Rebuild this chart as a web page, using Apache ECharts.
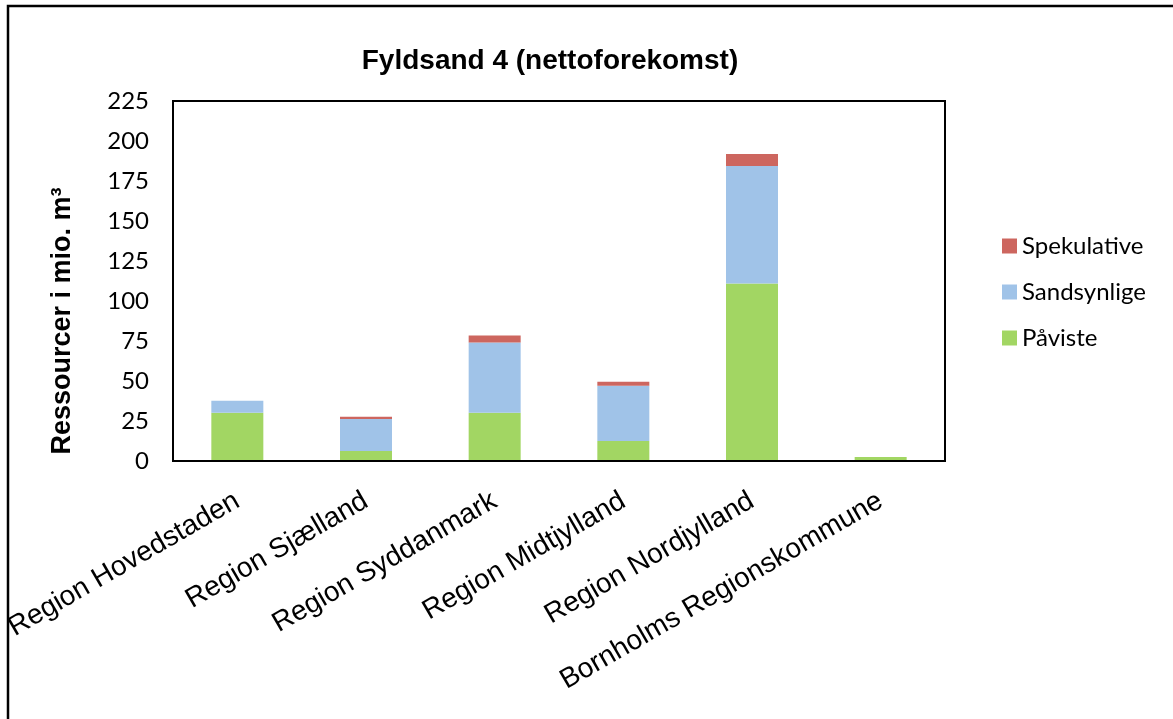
<!DOCTYPE html>
<html>
<head>
<meta charset="utf-8">
<script src="https://cdn.jsdelivr.net/npm/echarts@6/dist/echarts.min.js"></script>
<style>
  html, body { margin: 0; padding: 0; background: #fff; }
  #chart { width: 1173px; height: 719px; }
</style>
</head>
<body>
<div id="chart"></div>
<script>
// Fyldsand 4 (nettoforekomst) – ressourcer pr. region, mio. m³
const regions = [
  'Region Hovedstaden',
  'Region Sjælland',
  'Region Syddanmark',
  'Region Midtjylland',
  'Region Nordjylland',
  'Bornholms Regionskommune'
];
const paviste      = [30.1, 6.3, 30.1, 12.5, 111, 2.5];
const sandsynlige  = [7.5, 20.0, 44.0, 34.5, 73.3, 0];
const spekulative  = [0, 1.3, 4.3, 2.5, 7.5, 0];
const yTicks = [0, 25, 50, 75, 100, 125, 150, 175, 200, 225];

const chart = echarts.init(document.getElementById('chart'));

const barCommon = { type: 'bar', stack: 'total', barWidth: 52 };

chart.setOption({
  animation: false,
  backgroundColor: '#ffffff',
  title: {
    text: 'Fyldsand 4 (nettoforekomst)',
    left: 545, top: 42, textAlign: 'center',
    textStyle: { fontFamily: 'Liberation Sans', fontWeight: 'bold', fontSize: 28, color: '#000' }
  },
  legend: {
    orient: 'vertical',
    left: 997, top: 229,
    itemWidth: 15, itemHeight: 15, itemGap: 22,
    icon: 'rect',
    data: ['Spekulative', 'Sandsynlige', 'Påviste'],
    textStyle: { fontFamily: 'Lato', fontSize: 24, color: '#000', padding: [0, 0, 0, 0] }
  },
  grid: { left: 173, right: 1173 - 945, top: 101, bottom: 719 - 461, containLabel: false },
  xAxis: {
    type: 'category',
    data: regions,
    axisLine: { show: true, lineStyle: { color: '#000', width: 2 } },
    axisTick: { show: false },
    axisLabel: {
      rotate: 30, interval: 0, margin: 38,
      fontFamily: 'Liberation Sans', fontSize: 28, color: '#000'
    }
  },
  yAxis: {
    type: 'value',
    min: yTicks[0], max: yTicks[yTicks.length - 1], interval: 25,
    axisLine: { show: true, lineStyle: { color: '#000', width: 2 } },
    axisTick: { show: false },
    splitLine: { show: false },
    axisLabel: { margin: 24, fontFamily: 'Lato', fontSize: 24, color: '#000' }
  },
  graphic: [
    // outer chart frame
    { type: 'rect', shape: { x: 8, y: 6, width: 1200, height: 760 },
      style: { fill: 'none', stroke: '#000', lineWidth: 2.5 }, silent: true },
    // plot area frame
    { type: 'rect', shape: { x: 173, y: 101, width: 772, height: 360 },
      style: { fill: 'none', stroke: '#000', lineWidth: 2 }, silent: true, z: 10 },
    // y-axis title
    { type: 'text', x: 63, y: 321, rotation: Math.PI / 2,
      style: { text: 'Ressourcer i mio. m³', fontFamily: 'Liberation Sans', fontWeight: 'bold',
               fontSize: 27, fill: '#000', align: 'center', verticalAlign: 'middle' } }
  ],
  series: [
    Object.assign({ name: 'Påviste', data: paviste, itemStyle: { color: '#a2d663' } }, barCommon),
    Object.assign({ name: 'Sandsynlige', data: sandsynlige, itemStyle: { color: '#a0c3e8' } }, barCommon),
    Object.assign({ name: 'Spekulative', data: spekulative, itemStyle: { color: '#cd665f' } }, barCommon)
  ]
});
</script>
</body>
</html>
